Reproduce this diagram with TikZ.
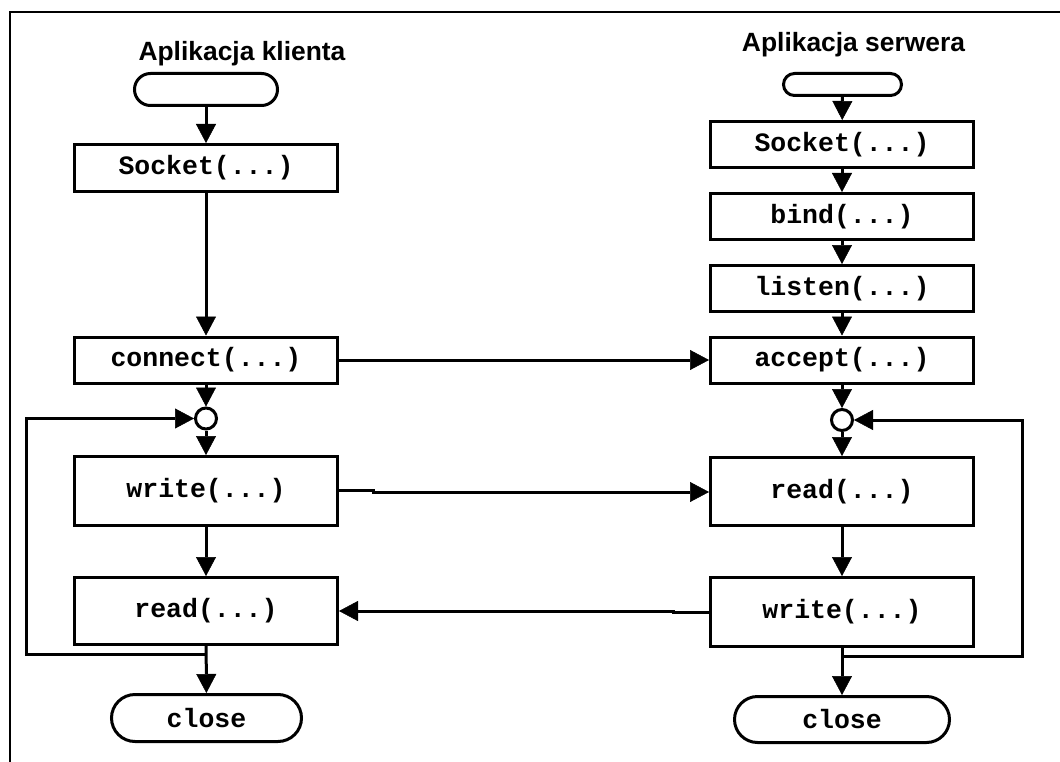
\documentclass[tikz,border=0pt]{standalone}
\usepackage{fontspec}
\setmainfont{Liberation Sans}
\setmonofont{Liberation Mono}
\usetikzlibrary{arrows.meta}
\tikzset{
  lw/.style={line width=3pt},
  stepbox/.style={draw, lw, inner sep=0pt, minimum width=263pt,
    font=\ttfamily\bfseries\fontsize{26.5}{30}\selectfont},
  term/.style={draw, lw, inner sep=0pt,
    font=\ttfamily\bfseries\fontsize{26.5}{30}\selectfont},
  junc/.style={draw, lw, circle, inner sep=0pt, minimum size=21pt},
  arr/.style={lw, -{Triangle[length=19pt,width=20pt,line width=0.5pt]}},
  title/.style={anchor=base, font=\bfseries\fontsize{26.4}{30}\selectfont}
}
\begin{document}
\begin{tikzpicture}[x=1pt,y=-1pt]
\useasboundingbox (0,0) rectangle (1060,762);
% frame
\coordinate (fr1) at (1062,12);
\coordinate (fr2) at (10,12);
\coordinate (fr3) at (10,764);
\draw[line width=2.5pt] (fr1) -- (fr2) -- (fr3);

% titles
\node[title] (ctitle) at (242,61) {Aplikacja klienta};
\node[title] (stitle) at (853.5,51.5) {Aplikacja serwera};

% client column
\node[term, minimum width=143pt, minimum height=32pt, rounded corners=16pt] (cstart) at (206,89.5) {};
\node[stepbox, minimum height=47pt] (csock) at (206,168) {Socket(...)};
\node[stepbox, minimum height=46pt] (cconn) at (206,360) {connect(...)};
\node[junc] (ccirc) at (206,418.5) {};
\node[stepbox, minimum height=69pt] (cwrite) at (206,491) {write(...)};
\node[stepbox, minimum height=67pt] (cread) at (206,611) {read(...)};
\node[term, minimum width=190pt, minimum height=47pt, rounded corners=23.5pt] (cclose) at (206.5,718) {close};

% server column
\node[term, minimum width=118pt, minimum height=22pt, rounded corners=11pt] (sstart) at (842.5,84.5) {};
\node[stepbox, minimum height=46pt] (ssock) at (842,144.5) {Socket(...)};
\node[stepbox, minimum height=46pt] (sbind) at (842,216.5) {bind(...)};
\node[stepbox, minimum height=46pt] (slisten) at (842,288.5) {listen(...)};
\node[stepbox, minimum height=46pt] (saccept) at (842,360) {accept(...)};
\node[junc] (scirc) at (842,420) {};
\node[stepbox, minimum height=68pt] (sread) at (842,491.5) {read(...)};
\node[stepbox, minimum height=69pt] (swrite) at (842,612) {write(...)};
\node[term, minimum width=215pt, minimum height=46pt, rounded corners=23pt] (sclose) at (842,719.5) {close};

% client flow
\draw[arr] (cstart) -- (csock);
\draw[arr] (csock) -- (cconn);
\draw[arr] (cconn) -- (ccirc);
\draw[arr] (ccirc) -- (cwrite);
\draw[arr] (cwrite) -- (cread);
\draw[arr] (cread) -- (cclose);
\coordinate (cj) at (206,654);
\coordinate (cl) at (26,654);
\draw[arr] (cj) -- (cl) |- (ccirc.west);

% server flow
\draw[arr] (sstart) -- (ssock);
\draw[arr] (ssock) -- (sbind);
\draw[arr] (sbind) -- (slisten);
\draw[arr] (slisten) -- (saccept);
\draw[arr] (saccept) -- (scirc);
\draw[arr] (scirc) -- (sread);
\draw[arr] (sread) -- (swrite);
\draw[arr] (swrite) -- (sclose);
\coordinate (sj) at (842,656);
\coordinate (sl) at (1022,656);
\draw[arr] (sj) -- (sl) |- (scirc.east);

% cross connections
\draw[arr] (cconn.east) -- (saccept.west);
\coordinate (k1) at (373,490.5);
\coordinate (k2) at (373,492);
\draw[arr] (cwrite.east |- k1) -- (k1) -- (k2) -- (k2 -| sread.west);
\coordinate (k3) at (673,611);
\coordinate (k4) at (673,612.5);
\draw[arr] (swrite.west |- k4) -- (k4) -- (k3) -- (k3 -| cread.east);
\end{tikzpicture}
\end{document}
